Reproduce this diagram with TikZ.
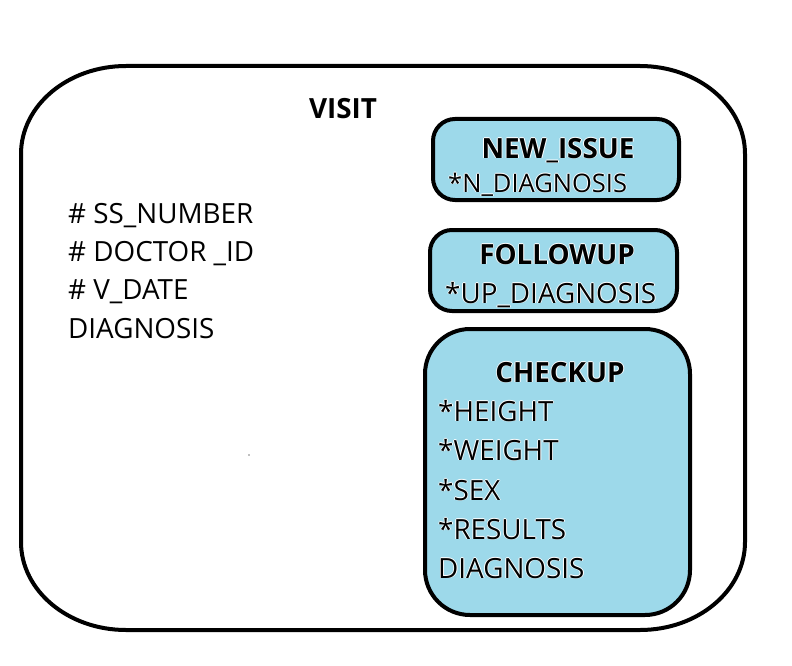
\documentclass[tikz,border=0pt]{standalone}
\usepackage{fontspec}
\setmainfont{Open Sans}
\definecolor{boxblue}{RGB}{157,217,234}
\newcommand\glw[1]{\leavevmode\rlap{\color{white}\raisebox{0.9pt}{#1}}\rlap{\color{white}\raisebox{-0.9pt}{#1}}\rlap{\color{white}\hspace{0.9pt}#1}\rlap{\color{white}\hspace{-0.9pt}#1}#1}
\begin{document}
\begin{tikzpicture}[x=1pt,y=-1pt,
  bluebox/.style={draw=black, line width=4pt, fill=boxblue, rectangle, inner sep=0pt},
  txt/.style={font=\fontsize{27.8}{32}\selectfont, inner sep=0pt, anchor=base west},
  hdr/.style={font=\fontsize{27.8}{32}\selectfont\bfseries, inner sep=0pt, anchor=base}]
\useasboundingbox (0,0) rectangle (792,666);
\fill[white] (0,0) rectangle (792,666);
% outer VISIT box
\draw[line width=4pt] (126,66) -- (640,66)
  arc[start angle=-90,end angle=0,x radius=105,y radius=88] -- (745,542)
  arc[start angle=0,end angle=90,x radius=105,y radius=88] -- (126,630)
  arc[start angle=90,end angle=180,x radius=105,y radius=88] -- (21,154)
  arc[start angle=180,end angle=270,x radius=105,y radius=88] -- cycle;
\node[hdr] (visit) at (343,119) {VISIT};
\node[txt] (ss) at (68,223) {\# SS\_NUMBER};
\node[txt] (doc) at (68,261) {\# DOCTOR \_ID};
\node[txt] (vdate) at (68,299) {\# V\_DATE};
\node[txt] (diag) at (68,338) {DIAGNOSIS};
\fill[gray] (249,455) circle (0.8);
% sub boxes
\node[bluebox, rounded corners=22pt, minimum width=246pt, minimum height=81pt] (newissue) at (556,159.5) {};
\node[bluebox, rounded corners=22pt, minimum width=247pt, minimum height=81pt] (followup) at (553.5,270.5) {};
\node[bluebox, rounded corners=45pt, minimum width=265pt, minimum height=286pt] (checkup) at (557.5,472) {};
\node[hdr] (nih) at (558,158) {\glw{NEW\_ISSUE}};
\node[txt, font=\fontsize{25.5}{30}\selectfont] (nid) at (448,192) {\glw{*N\_DIAGNOSIS}};
\node[hdr] (fuh) at (557,264) {\glw{FOLLOWUP}};
\node[txt] (fud) at (445,303) {\glw{*UP\_DIAGNOSIS}};
\node[hdr] (ckh) at (560,382) {\glw{CHECKUP}};
\node[txt] (ck1) at (438,421) {\glw{*HEIGHT}};
\node[txt] (ck2) at (438,460) {\glw{*WEIGHT}};
\node[txt] (ck3) at (438,500) {\glw{*SEX}};
\node[txt] (ck4) at (438,539) {\glw{*RESULTS}};
\node[txt] (ck5) at (438,578) {\glw{DIAGNOSIS}};
\end{tikzpicture}
\end{document}
